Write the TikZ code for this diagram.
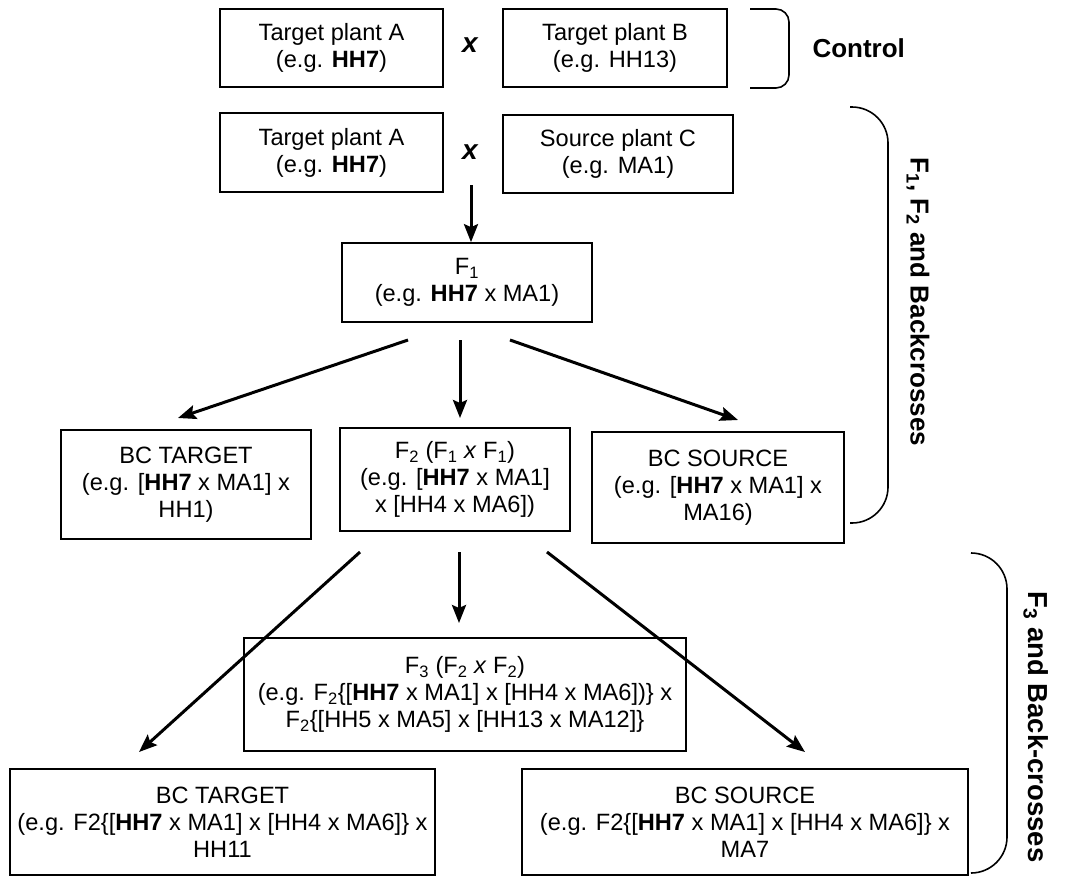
\documentclass[tikz,border=0pt]{standalone}
\usepackage{fontspec}
\setmainfont{Liberation Sans}
\usetikzlibrary{arrows.meta}
\tikzset{
  plantbox/.style={draw, line width=1.7pt, align=center, inner sep=0pt,
    font=\fontsize{23.6}{27}\selectfont},
  crossmark/.style={font=\fontsize{28}{30}\selectfont\bfseries\itshape},
  bracelabel/.style={font=\fontsize{26}{28}\selectfont\bfseries},
  bracket/.style={line width=1.6pt},
  arr/.style={line width=3pt, -{Stealth[length=18pt,width=14pt,inset=3pt]}}
}
\begin{document}
\begin{tikzpicture}[x=1pt,y=-1pt]
\useasboundingbox (0,0) rectangle (1065,879);
% boxes
\node[plantbox, minimum width=223pt, minimum height=78pt] (A1) at (331.5,48) {Target plant A\\(e.g. \textbf{HH7})};
\node[plantbox, minimum width=224pt, minimum height=78pt] (B1) at (615,48) {Target plant B\\(e.g. HH13)};
\node[crossmark] (x1) at (470,45) {x};
\node[plantbox, minimum width=223pt, minimum height=79pt] (A2) at (331.5,152.5) {Target plant A\\(e.g. \textbf{HH7})};
\node[plantbox, minimum width=230pt, minimum height=78pt] (C) at (618,154) {Source plant C\\(e.g. MA1)};
\node[crossmark] (x2) at (470,152) {x};
\node[plantbox, minimum width=250pt, minimum height=79pt] (F1) at (467,282.5) {F\textsubscript{1}\\(e.g. \textbf{HH7} x MA1)};
\node[plantbox, minimum width=250pt, minimum height=109pt] (BCT1) at (186,484.5) {BC TARGET\\(e.g. [\textbf{HH7} x MA1] x\\HH1)};
\node[plantbox, minimum width=230pt, minimum height=103pt] (F2) at (455,479.5) {F\textsubscript{2} (F\textsubscript{1} \textit{x} F\textsubscript{1})\\(e.g. [\textbf{HH7} x MA1]\\x [HH4 x MA6])};
\node[plantbox, minimum width=252pt, minimum height=111pt] (BCS1) at (718,487.5) {BC SOURCE\\(e.g. [\textbf{HH7} x MA1] x\\MA16)};
\node[plantbox, minimum width=442pt, minimum height=113pt] (F3) at (465,694.5) {F\textsubscript{3} (F\textsubscript{2} \textit{x} F\textsubscript{2})\\(e.g. F\textsubscript{2}\{[\textbf{HH7} x MA1] x [HH4 x MA6])\} x\\F\textsubscript{2}\{[HH5 x MA5] x [HH13 x MA12]\}};
\node[plantbox, minimum width=425pt, minimum height=106pt] (BCT2) at (222.5,822) {BC TARGET\\(e.g. F2\{[\textbf{HH7} x MA1] x [HH4 x MA6]\} x\\HH11};
\node[plantbox, minimum width=446pt, minimum height=106pt] (BCS2) at (745,822) {BC SOURCE\\(e.g. F2\{[\textbf{HH7} x MA1] x [HH4 x MA6]\} x\\MA7};
% brackets and labels
\draw[bracket, rounded corners=13pt] (750,9) -- (789,9) -- (789,88) -- (750,88);
\node[bracelabel, anchor=west] (ctl) at (809,48) {Control};
\draw[bracket, rounded corners=36pt] (850,107) -- (888,107) -- (888,523) -- (850,523);
\node[bracelabel, rotate=-90] (lab1) at (918,302) {F\textsubscript{1}, F\textsubscript{2} and Backcrosses};
\draw[bracket, rounded corners=36pt] (972,553) -- (1007,553) -- (1007,873) -- (972,873);
\node[bracelabel, rotate=-90, font=\fontsize{27.5}{29}\selectfont\bfseries] (lab2) at (1036,727) {F\textsubscript{3} and Back-crosses};
% connector coordinates
\coordinate (s0) at (471,185);
\coordinate (s1) at (408,340);
\coordinate (s2) at (460,340);
\coordinate (s3) at (510,340);
\coordinate (e1) at (178,418);
\coordinate (e2) at (460,418);
\coordinate (e3) at (738,420);
\coordinate (u1) at (360,552);
\coordinate (u2) at (459,552);
\coordinate (u3) at (547,552);
\coordinate (v1) at (139,752);
\coordinate (v2) at (459,623);
\coordinate (v3) at (805,752);
\draw[arr] (s0) -- (F1.north -| s0);
\draw[arr] (s1) -- (e1);
\draw[arr] (s2) -- (e2);
\draw[arr] (s3) -- (e3);
\draw[arr] (u1) -- (v1);
\draw[arr] (u2) -- (v2);
\draw[arr] (u3) -- (v3);
\end{tikzpicture}
\end{document}
